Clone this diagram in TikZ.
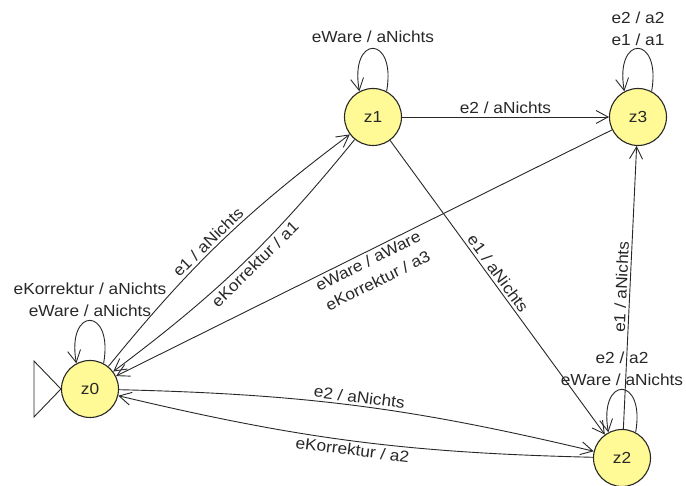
\documentclass[tikz,border=0pt]{standalone}
\usepackage{fontspec}
\setmainfont{Liberation Sans}[FakeStretch=1.08]
\usetikzlibrary{arrows.meta}
\definecolor{stfill}{RGB}{255,250,150}
\definecolor{ink}{RGB}{40,40,40}
\begin{document}
\begin{tikzpicture}[x=1pt,y=1pt,
  state/.style={circle,draw=ink,line width=1.1pt,fill=stfill,minimum size=57pt,inner sep=0pt,text=ink,font=\fontsize{16}{20}\selectfont},
  edge/.style={draw=ink,line width=0.9pt,-{Straight Barb[length=12pt,width=13pt,line width=0.9pt]}},
  lbl/.style={font=\fontsize{16}{22}\selectfont,inner sep=2.5pt,text=ink},
  loopedge/.style={edge}
  ]
\fill[white] (0,0) rectangle (686,486);
\useasboundingbox (0,0) rectangle (686,486);
% states
\node[state] (z0) at (90,97) {z0};
\node[state] (z1) at (373,369) {z1};
\node[state] (z3) at (638,369) {z3};
\node[state] (z2) at (622,28) {z2};
% initial marker
\draw[draw=ink,line width=0.9pt] (z0.west) -- ++(-27pt,28pt) -- ++(0pt,-56pt) -- cycle;
% self loops
\draw[loopedge] (z0.62) .. controls +(80:58pt) and +(100:58pt) .. (z0.118);
\draw[loopedge] (z1.62) .. controls +(80:58pt) and +(100:58pt) .. (z1.118);
\draw[loopedge] (z3.62) .. controls +(80:58pt) and +(100:58pt) .. (z3.118);
\draw[loopedge] (z2.62) .. controls +(80:58pt) and +(100:58pt) .. (z2.118);
\node[lbl,align=center] (l0) at (90,186) {eKorrektur / aNichts\\eWare / aNichts};
\node[lbl] (l1) at (373,449) {eWare / aNichts};
\node[lbl,align=center] (l3) at (638,457) {e2 / a2\\e1 / a1};
\node[lbl,align=center] (l2) at (622,117) {e2 / a2\\eWare / aNichts};
% transitions
\draw[edge] (z0) to[bend left=7] node[lbl,above,sloped,pos=0.47] (t01) {e1 / aNichts} (z1);
\draw[edge] (z1) to[bend left=7] node[lbl,below,sloped,pos=0.47] (t10) {eKorrektur / a1} (z0);
\draw[edge] (z1) -- node[lbl,above] (t13) {e2 / aNichts} (z3);
\draw[edge] (z1) -- node[lbl,above,sloped,pos=0.47] (t12) {e1 / aNichts} (z2);
\draw[edge] (z3) -- node[lbl,below,sloped,align=center] (t30) {eWare / aWare\\eKorrektur / a3} (z0);
\draw[edge] (z2) -- node[lbl,above,sloped] (t23) {e1 / aNichts} (z3);
\draw[edge] (z0) to[bend left=6] node[lbl,above,sloped] (t02) {e2 / aNichts} (z2);
\draw[edge] (z2) to[bend left=6] node[lbl,below,sloped] (t20) {eKorrektur / a2} (z0);
\end{tikzpicture}
\end{document}
